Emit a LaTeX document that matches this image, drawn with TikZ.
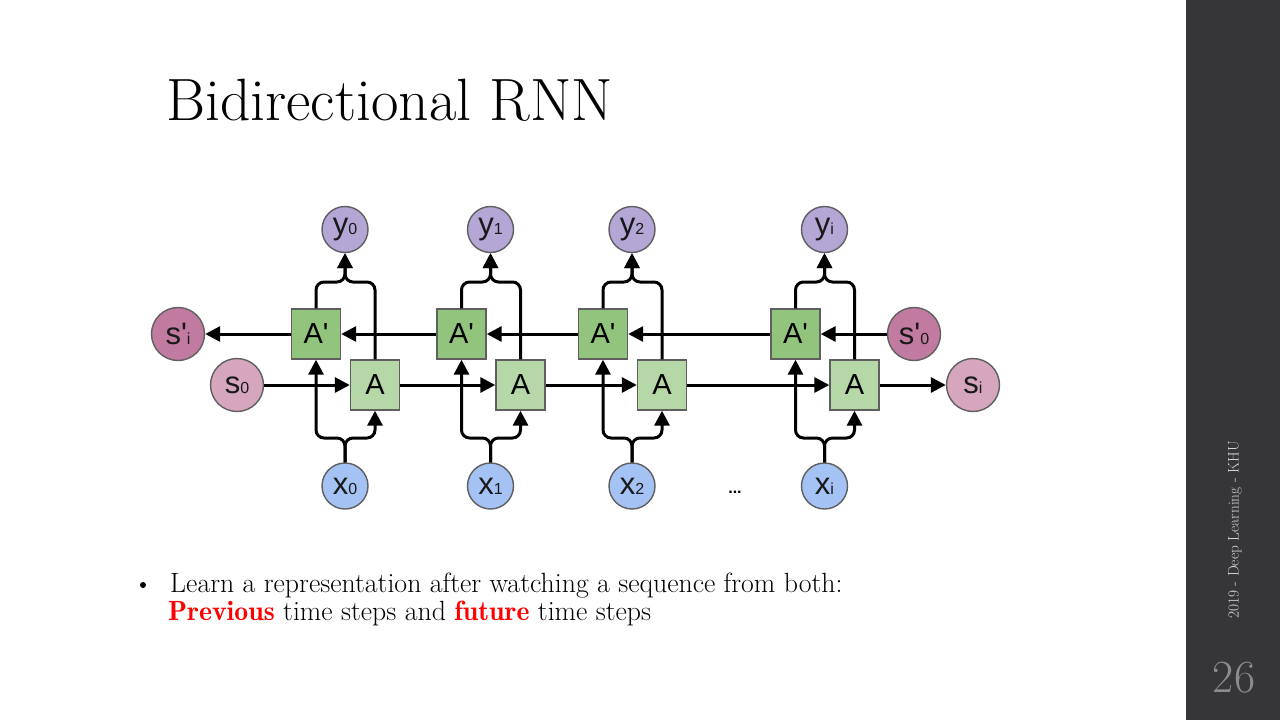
\documentclass[tikz,border=0pt]{standalone}
\usepackage{fontspec}
\newfontfamily\arialfam{Liberation Sans}
\newfontface\demiface{lmromandemi10-regular.otf}
\usetikzlibrary{arrows.meta}

\definecolor{panelgray}{HTML}{363638}
\definecolor{paneltext}{HTML}{D8D8D8}
\definecolor{pagenum}{HTML}{8C8C90}
\definecolor{edgegray}{HTML}{5F5F5F}
\definecolor{cellA}{HTML}{B6D7A8}
\definecolor{cellAp}{HTML}{93C47D}
\definecolor{ycol}{HTML}{B4A7D6}
\definecolor{xcol}{HTML}{A4C2F4}
\definecolor{sprime}{HTML}{C27BA0}
\definecolor{sfwd}{HTML}{D5A6BD}
\definecolor{hired}{HTML}{FF0000}

% letter with a small index set on the baseline
\newcommand\cellsub[2]{#1{\fontsize{16}{16}\selectfont #2}}
% emphasised word in the bullet text
\newcommand\hiword[1]{{\color{hired}\demiface #1}}

\tikzset{
  unit/.style={circle, draw=edgegray, line width=1.4pt, minimum size=46pt,
    inner sep=0pt, text=black!90, font=\arialfam\fontsize{31}{31}\selectfont},
  ycirc/.style={unit, fill=ycol},
  xcirc/.style={unit, fill=xcol},
  spcirc/.style={unit, fill=sprime, minimum size=53pt},
  sfcirc/.style={unit, fill=sfwd, minimum size=53pt},
  cellbox/.style={rectangle, draw=edgegray, line width=1.4pt, minimum width=49pt,
    minimum height=50pt, inner sep=0pt, font=\arialfam\fontsize{29}{29}\selectfont},
  abox/.style={cellbox, fill=cellA},
  apbox/.style={cellbox, fill=cellAp},
  conn/.style={line width=3pt, rounded corners=8pt,
    -{Triangle[length=15pt,width=15pt]}},
  bodytext/.style={anchor=base west, inner sep=0pt, font=\fontsize{27.8}{28}\selectfont},
}

\begin{document}
\begin{tikzpicture}[x={(1pt,0)}, y={(0,-1pt)}]
  \useasboundingbox (0,0) rectangle (1280,720);
  \fill[white] (0,0) rectangle (1280,720);

  % side panel
  \fill[panelgray] (1186,0) rectangle (1280,720);
  \node[rotate=90, text=paneltext, inner sep=0pt,
        font=\fontsize{15.3}{15.3}\selectfont] (footer) at (1235,530)
    {2019 - Deep Learning - KHU};
  \node[text=pagenum, inner sep=0pt, font=\fontsize{46}{46}\selectfont] (pnum)
    at (1234,678) {26};

  % title
  \node[anchor=base west, inner sep=0pt, font=\fontsize{59.7}{62}\selectfont]
    (title) at (166,120) {Bidirectional RNN};

  % bullet text
  \node[circle, fill=black, inner sep=0pt, minimum size=6pt] (bullet) at (143,585) {};
  \node[bodytext] (line1) at (170,592)
    {Learn a representation after watching a sequence from both:};
  \node[bodytext] (line2) at (168,620)
    {\hiword{Previous} time steps and \hiword{future} time steps};

  % end states
  \node[spcirc] (spi) at (178,334) {\cellsub{s\textquotesingle}{i}};
  \node[sfcirc] (s0) at (237,385) {\cellsub{s}{0}};
  \node[spcirc] (sp0) at (914,334) {\cellsub{s\textquotesingle}{0}};
  \node[sfcirc] (si) at (973,385) {\cellsub{s}{i}};

  % unrolled time steps
  \foreach \k/\cx/\sub in {0/345/0, 1/490.5/1, 2/632/2, 3/824.5/i}{
    \node[ycirc] (y\k) at (\cx,229.5) {\cellsub{y}{\sub}};
    \node[apbox] (Ap\k) at (\cx-29,334) {A\textquotesingle};
    \node[abox] (A\k) at (\cx+30,385) {A};
    \node[xcirc] (x\k) at (\cx,486) {\cellsub{x}{\sub}};
    \coordinate (t\k) at (\cx,282);
    \coordinate (b\k) at (\cx,438);
    \draw[conn] (Ap\k.north) |- (t\k) -- (y\k.south);
    \draw[conn] (A\k.north) |- (t\k) -- (y\k.south);
    \draw[conn] (x\k.north) -- (b\k) -| (Ap\k.south);
    \draw[conn] (x\k.north) -- (b\k) -| (A\k.south);
  }

  \node[font=\arialfam\bfseries\fontsize{16}{16}\selectfont, inner sep=0pt]
    (dots) at (735,492) {...};

  % forward chain
  \draw[conn] (s0.east) -- (A0.west);
  \draw[conn] (A0.east) -- (A1.west);
  \draw[conn] (A1.east) -- (A2.west);
  \draw[conn] (A2.east) -- (A3.west);
  \draw[conn] (A3.east) -- (si.west);

  % backward chain
  \draw[conn] (sp0.west) -- (Ap3.east);
  \draw[conn] (Ap3.west) -- (Ap2.east);
  \draw[conn] (Ap2.west) -- (Ap1.east);
  \draw[conn] (Ap1.west) -- (Ap0.east);
  \draw[conn] (Ap0.west) -- (spi.east);
\end{tikzpicture}
\end{document}
